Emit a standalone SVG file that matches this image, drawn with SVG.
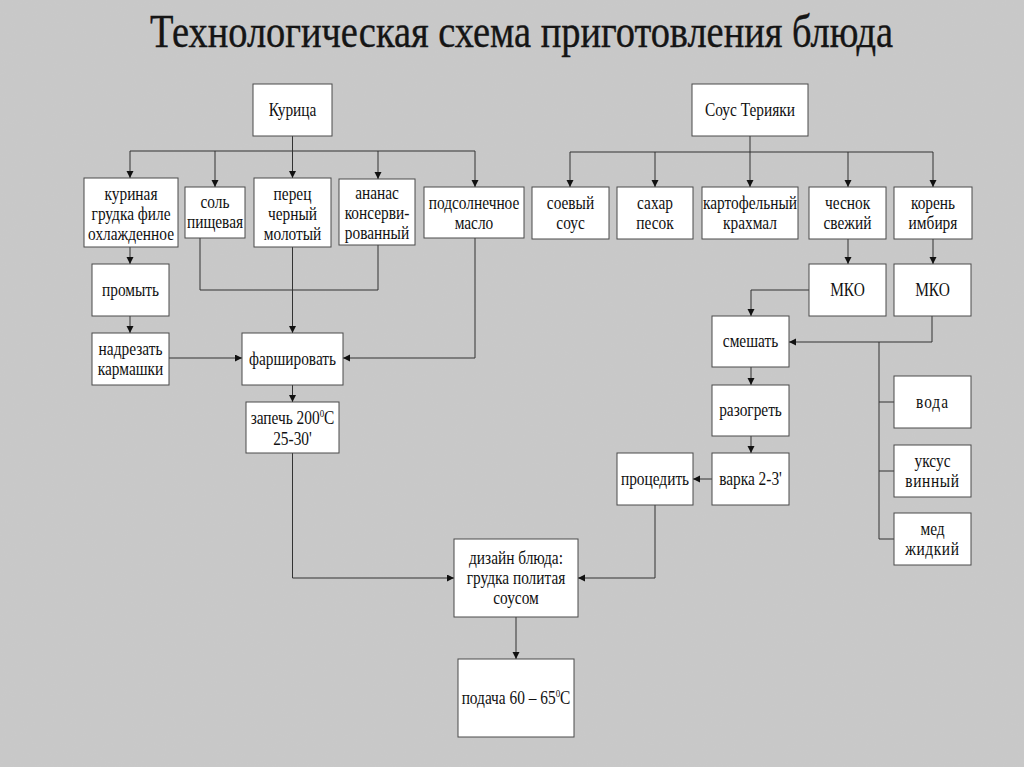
<svg xmlns="http://www.w3.org/2000/svg" width="1024" height="767" viewBox="0 0 1024 767">
<style>
.bg{fill:#c9c9c9}
.title{font-family:"Liberation Serif","Times New Roman",serif;font-size:46px;fill:#151515;text-anchor:middle}
.n rect{fill:#fff;stroke:#4a4a4a;stroke-width:1}
.n text{font-family:"Liberation Serif","Times New Roman",serif;font-size:19px;fill:#111;text-anchor:middle;transform-box:fill-box;transform-origin:center;transform:scaleX(0.81)}
.sup{font-size:11px}
#connectors path{fill:none;stroke:#333;stroke-width:1}
.a{marker-end:url(#arr)}
</style>
<defs>
<marker id="arr" markerUnits="userSpaceOnUse" markerWidth="8" markerHeight="8" refX="7" refY="3.5" orient="auto">
<path d="M0,0 L7,3.5 L0,7 z" fill="#111"/>
</marker>
<filter id="noise" x="0" y="0" width="100%" height="100%">
<feTurbulence type="fractalNoise" baseFrequency="0.9" numOctaves="2" seed="3" result="t"/>
<feColorMatrix type="matrix" values="0 0 0 0 0.5  0 0 0 0 0.5  0 0 0 0 0.5  0 0 0 0.12 0"/>
</filter>
</defs>
<rect class="bg" x="0" y="0" width="1024" height="767"/>
<rect x="0" y="0" width="1024" height="767" filter="url(#noise)"/>
<text class="title" transform="translate(521.5,47) scale(0.82,1)" x="0" y="0" textLength="906" lengthAdjust="spacingAndGlyphs" stroke="#151515" stroke-width="0.4">Технологическая схема приготовления блюда</text>

<g id="connectors">
<path d="M292.5,136 V151"/>
<path d="M130,151 H475"/>
<path class="a" d="M130,151 V178"/>
<path class="a" d="M215,151 V187"/>
<path class="a" d="M292.5,151 V178"/>
<path class="a" d="M378,151 V179"/>
<path class="a" d="M475,151 V187"/>
<path d="M750,136 V152"/>
<path d="M570,152 H933"/>
<path class="a" d="M570,152 V187"/>
<path class="a" d="M655,152 V187"/>
<path class="a" d="M750,152 V187"/>
<path class="a" d="M848,152 V187"/>
<path class="a" d="M933,152 V187"/>
<path class="a" d="M130,247 V264"/>
<path class="a" d="M130,316 V333"/>
<path class="a" d="M169,358 H242"/>
<path d="M200,238 V290 H378 V245"/>
<path class="a" d="M292.5,247 V333"/>
<path class="a" d="M475,238 V358 H343"/>
<path class="a" d="M292.5,385 V402"/>
<path class="a" d="M292.5,453 V578 H454"/>
<path class="a" d="M848,239 V264"/>
<path class="a" d="M933,239 V264"/>
<path class="a" d="M809,290 H751 V316"/>
<path class="a" d="M932,316 V342 H789"/>
<path d="M879,342 V539"/>
<path d="M879,402 H894 M879,471 H894 M879,539 H894"/>
<path class="a" d="M751,367 V385"/>
<path class="a" d="M751,436 V453"/>
<path class="a" d="M712,479 H693"/>
<path class="a" d="M655,505 V578 H578"/>
<path class="a" d="M516,617 V659"/>
</g>

<g id="nodes" font-family="Liberation Serif, serif">
<g id="n-kurica" class="n"><rect x="253" y="84" width="79" height="52"/><text x="292.5" y="116">Курица</text></g>
<g id="n-grudka" class="n"><rect x="84" y="178" width="94" height="69"/><text x="131" y="200">куриная</text><text x="131" y="220">грудка филе</text><text x="131" y="240">охлажденное</text></g>
<g id="n-sol" class="n"><rect x="185" y="187" width="60" height="51"/><text x="215" y="208">соль</text><text x="215" y="228">пищевая</text></g>
<g id="n-perec" class="n"><rect x="254" y="178" width="77" height="69"/><text x="292.5" y="200">перец</text><text x="292.5" y="220">черный</text><text x="292.5" y="240">молотый</text></g>
<g id="n-ananas" class="n"><rect x="339" y="179" width="76" height="66"/><text x="377" y="199">ананас</text><text x="377" y="219">консерви-</text><text x="377" y="239">рованный</text></g>
<g id="n-maslo" class="n"><rect x="424" y="187" width="100" height="51"/><text x="474" y="209">подсолнечное</text><text x="474" y="229">масло</text></g>
<g id="n-sous" class="n"><rect x="692" y="84" width="116" height="52"/><text x="750" y="116">Соус Терияки</text></g>
<g id="n-soevyj" class="n"><rect x="532" y="187" width="77" height="52"/><text x="570.5" y="209">соевый</text><text x="570.5" y="229">соус</text></g>
<g id="n-sahar" class="n"><rect x="617" y="187" width="76" height="52"/><text x="655" y="209">сахар</text><text x="655" y="229">песок</text></g>
<g id="n-krahmal" class="n"><rect x="702" y="187" width="96" height="52"/><text x="750" y="209">картофельный</text><text x="750" y="229">крахмал</text></g>
<g id="n-chesnok" class="n"><rect x="809" y="187" width="77" height="52"/><text x="847.5" y="209">чеснок</text><text x="847.5" y="229">свежий</text></g>
<g id="n-imbir" class="n"><rect x="894" y="187" width="78" height="52"/><text x="933" y="209">корень</text><text x="933" y="229">имбиря</text></g>
<g id="n-promyt" class="n"><rect x="92" y="264" width="77" height="52"/><text x="130.5" y="296">промыть</text></g>
<g id="n-nadrezat" class="n"><rect x="92" y="333" width="77" height="52"/><text x="130.5" y="355">надрезать</text><text x="130.5" y="375">кармашки</text></g>
<g id="n-farsh" class="n"><rect x="242" y="333" width="101" height="52"/><text x="292.5" y="365">фаршировать</text></g>
<g id="n-zapech" class="n"><rect x="246" y="402" width="93" height="51"/><text x="292.5" y="424">запечь 200<tspan class="sup" dy="-7">0</tspan><tspan dy="7">С</tspan></text><text x="292.5" y="445">25-30'</text></g>
<g id="n-mko1" class="n"><rect x="809" y="264" width="77" height="52"/><text x="847.5" y="296">МКО</text></g>
<g id="n-mko2" class="n"><rect x="894" y="264" width="77" height="52"/><text x="932.5" y="296">МКО</text></g>
<g id="n-smeshat" class="n"><rect x="712" y="316" width="77" height="51"/><text x="750.5" y="347">смешать</text></g>
<g id="n-voda" class="n"><rect x="894" y="376" width="77" height="52"/><text x="932.5" y="408" letter-spacing="1.2">вода</text></g>
<g id="n-uksus" class="n"><rect x="894" y="445" width="77" height="52"/><text x="932.5" y="467">уксус</text><text x="932.5" y="487" letter-spacing="0.8">винный</text></g>
<g id="n-med" class="n"><rect x="894" y="513" width="77" height="52"/><text x="932.5" y="535">мед</text><text x="932.5" y="555" letter-spacing="0.8">жидкий</text></g>
<g id="n-razogret" class="n"><rect x="712" y="385" width="77" height="51"/><text x="750.5" y="416">разогреть</text></g>
<g id="n-varka" class="n"><rect x="712" y="453" width="77" height="52"/><text x="750.5" y="485">варка 2-3'</text></g>
<g id="n-procedit" class="n"><rect x="617" y="453" width="76" height="52"/><text x="655" y="485">процедить</text></g>
<g id="n-dizajn" class="n"><rect x="454" y="539" width="124" height="78"/><text x="516" y="564">дизайн блюда:</text><text x="516" y="584">грудка политая</text><text x="516" y="604">соусом</text></g>
<g id="n-podacha" class="n"><rect x="458" y="659" width="116" height="78"/><text x="516" y="704">подача 60 – 65<tspan class="sup" dy="-7">0</tspan><tspan dy="7">С</tspan></text></g>
</g>
</svg>
